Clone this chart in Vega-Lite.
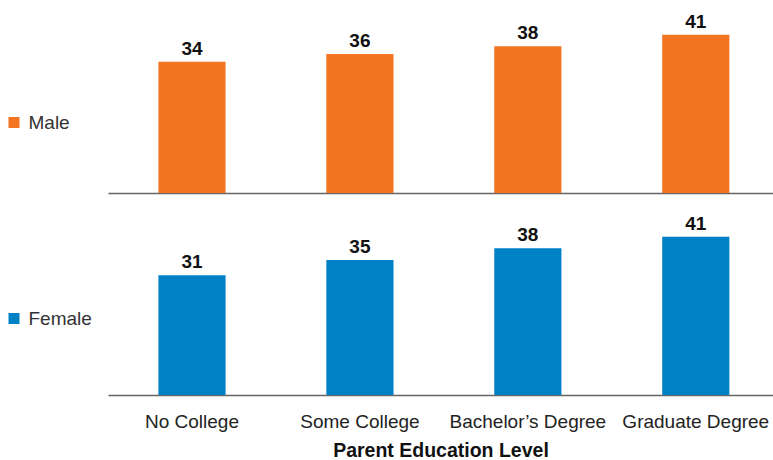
{
  "$schema": "https://vega.github.io/schema/vega-lite/v6.json",
  "padding": {"left": 4, "top": 0, "right": 0, "bottom": 2},
  "background": "white",
  "config": {
    "view": {"stroke": null},
    "font": "Liberation Sans",
    "concat": {"spacing": 9},
    "legend": {
      "labelFont": "Liberation Sans",
      "labelFontSize": 19,
      "labelColor": "#333333",
      "labelOffset": 5,
      "symbolType": "square",
      "symbolSize": 121,
      "symbolStrokeWidth": 0,
      "padding": 0
    }
  },
  "data": {
    "values": [
      {"gender": "Male", "level": "No College", "value": 34},
      {"gender": "Male", "level": "Some College", "value": 36},
      {"gender": "Male", "level": "Bachelor’s Degree", "value": 38},
      {"gender": "Male", "level": "Graduate Degree", "value": 41},
      {"gender": "Female", "level": "No College", "value": 31},
      {"gender": "Female", "level": "Some College", "value": 35},
      {"gender": "Female", "level": "Bachelor’s Degree", "value": 38},
      {"gender": "Female", "level": "Graduate Degree", "value": 41}
    ]
  },
  "vconcat": [
    {
      "width": 665,
      "height": 193,
      "transform": [{"filter": "datum.gender === 'Male'"}],
      "encoding": {
        "x": {
          "field": "level", "type": "nominal", "sort": null,
          "scale": {"paddingInner": 0.6, "paddingOuter": 0.28, "align": 0.536},
          "axis": {"labels": false, "ticks": false, "title": null, "domainColor": "#666666", "domainWidth": 1.5}
        },
        "y": {"field": "value", "type": "quantitative", "scale": {"domain": [0, 50]}, "axis": null}
      },
      "layer": [
        {
          "mark": {"type": "bar"},
          "encoding": {
            "color": {
              "field": "gender", "type": "nominal",
              "scale": {"domain": ["Male"], "range": ["#F37421"]},
              "legend": {"title": null, "orient": "none", "legendX": -103.5, "legendY": 113}
            }
          }
        },
        {
          "mark": {"type": "text", "dy": -7, "baseline": "alphabetic", "fontWeight": "bold", "fontSize": 19, "color": "#111111"},
          "encoding": {"text": {"field": "value", "type": "quantitative"}}
        }
      ]
    },
    {
      "width": 665,
      "height": 193,
      "transform": [{"filter": "datum.gender === 'Female'"}],
      "encoding": {
        "x": {
          "field": "level", "type": "nominal", "sort": null,
          "scale": {"paddingInner": 0.6, "paddingOuter": 0.28, "align": 0.536},
          "axis": {
            "labelAngle": 0, "ticks": false, "labelPadding": 17,
            "labelFontSize": 19, "labelColor": "#222222", "labelFont": "Liberation Sans",
            "title": "Parent Education Level", "titleFontSize": 19.5, "titleFontWeight": "bold",
            "titleColor": "#111111", "titlePadding": 10, "titleFont": "Liberation Sans",
            "domainColor": "#666666", "domainWidth": 1.5
          }
        },
        "y": {"field": "value", "type": "quantitative", "scale": {"domain": [0, 50]}, "axis": null}
      },
      "layer": [
        {
          "mark": {"type": "bar"},
          "encoding": {
            "color": {
              "field": "gender", "type": "nominal",
              "scale": {"domain": ["Female"], "range": ["#0081C6"]},
              "legend": {"title": null, "orient": "none", "legendX": -103.5, "legendY": 107}
            }
          }
        },
        {
          "mark": {"type": "text", "dy": -7, "baseline": "alphabetic", "fontWeight": "bold", "fontSize": 19, "color": "#111111"},
          "encoding": {"text": {"field": "value", "type": "quantitative"}}
        }
      ]
    }
  ],
  "resolve": {"scale": {"color": "independent"}, "legend": {"color": "independent"}}
}
